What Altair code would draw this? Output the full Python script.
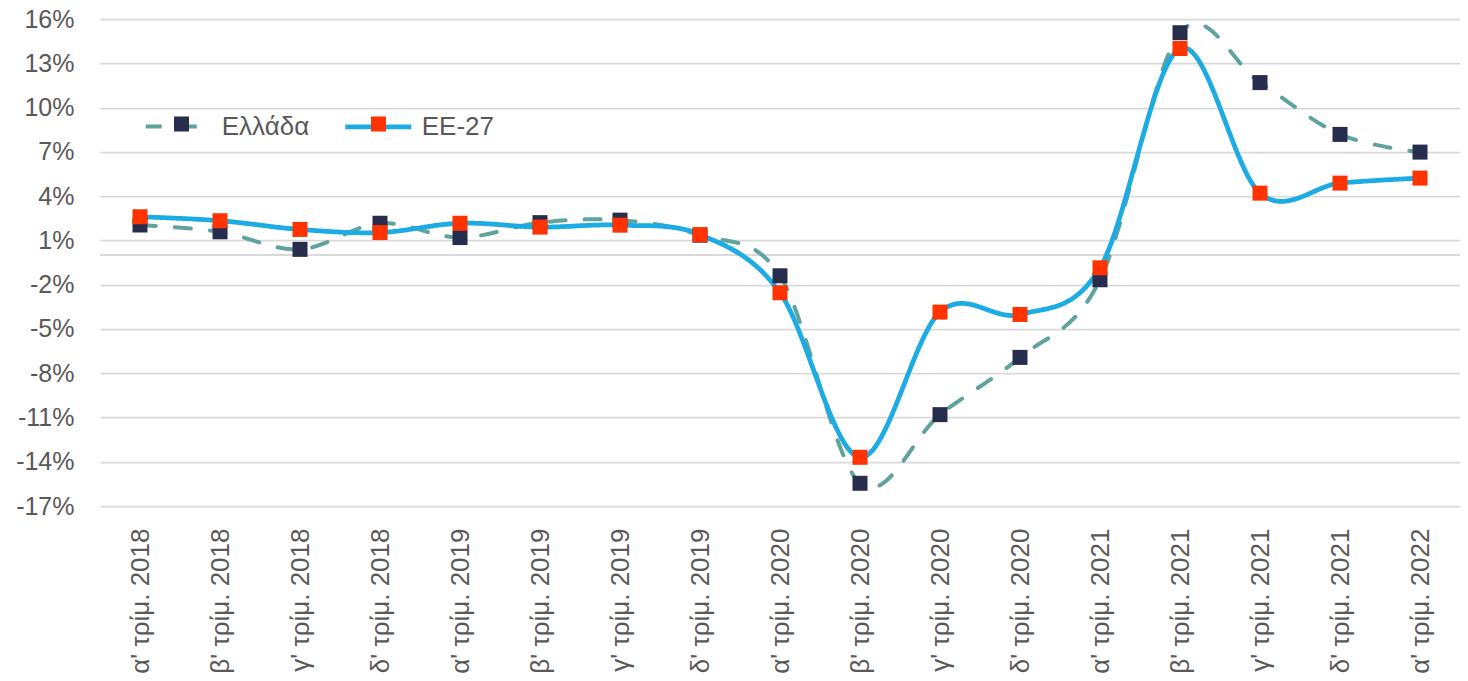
import altair as alt
import pandas as pd

quarters = [
    "α' τρίμ. 2018", "β' τρίμ. 2018", "γ' τρίμ. 2018", "δ' τρίμ. 2018",
    "α' τρίμ. 2019", "β' τρίμ. 2019", "γ' τρίμ. 2019", "δ' τρίμ. 2019",
    "α' τρίμ. 2020", "β' τρίμ. 2020", "γ' τρίμ. 2020", "δ' τρίμ. 2020",
    "α' τρίμ. 2021", "β' τρίμ. 2021", "γ' τρίμ. 2021", "δ' τρίμ. 2021",
    "α' τρίμ. 2022",
]
greece = [2.04, 1.58, 0.39, 2.16, 1.19, 2.2, 2.37, 1.35, -1.40, -15.46, -10.81,
          -6.93, -1.67, 15.07, 11.69, 8.18, 6.98]
eu27 = [2.6, 2.33, 1.74, 1.53, 2.16, 1.9, 2.03, 1.39, -2.55, -13.70, -3.86,
        -4.02, -0.86, 14.0, 4.2, 4.88, 5.22]
series_names = ["Ελλάδα", "ΕΕ-27"]
y_ticks = [-17, -14, -11, -8, -5, -2, 1, 4, 7, 10, 13, 16]

# marker series keys carry a suffix so that their legend stays separate
marker_names = [s + "_" for s in series_names]

rows = []
for name, mname, vals in zip(series_names, marker_names, [greece, eu27]):
    for q, v in zip(quarters, vals):
        rows.append({"quarter": q, "series": name, "series_pt": mname, "value": v})
df = pd.DataFrame(rows)

FONT = "Liberation Sans"
TXT = "#595959"
GRID = "#D9D9D9"
TEAL = "#5FA39E"
BLUE = "#1CABE2"
NAVY = "#262D4D"
RED = "#FF3300"

x_enc = alt.X(
    "quarter:N", sort=quarters, title=None,
    scale=alt.Scale(type="point", padding=0.5),
    axis=alt.Axis(labelAngle=-90, labelFontSize=26, labelFont=FONT, labelColor=TXT,
                  ticks=False, domain=False, grid=False, labelPadding=22),
)
y_enc = alt.Y(
    "value:Q", title=None,
    scale=alt.Scale(domain=[-17, 16], nice=False, zero=False),
    axis=alt.Axis(values=y_ticks, labelExpr="datum.value + '%'", labelFontSize=25,
                  labelFont=FONT, labelColor=TXT, ticks=False, domain=False,
                  grid=True, gridColor=GRID, gridWidth=1.75, labelPadding=26),
)

line_legend = alt.Legend(
    title=None, orient="none", legendX=43.75, legendY=72, direction="horizontal",
    symbolType="stroke", symbolSize=4356, symbolStrokeWidth=4.5,
    labelFontSize=26, labelFont=FONT, labelColor=TXT, labelOffset=8,
    columnPadding=26, padding=0,
)
point_legend = alt.Legend(
    title=None, orient="none", legendX=68.5, legendY=92, direction="horizontal",
    symbolType="square", symbolSize=225, symbolStrokeWidth=0,
    labelFontSize=26, labelFont=FONT, labelExpr="''",
    labelOffset=0, columnPadding=171, padding=0,
)

zero_rule = alt.Chart(df).mark_rule(color=GRID, strokeWidth=2).encode(y=alt.datum(0))

lines = alt.Chart(df).mark_line(interpolate="cardinal", tension=0, strokeCap="round").encode(
    x=x_enc, y=y_enc,
    color=alt.Color("series:N", scale=alt.Scale(domain=series_names, range=[TEAL, BLUE]),
                    legend=line_legend),
    strokeDash=alt.StrokeDash("series:N",
                              scale=alt.Scale(domain=series_names, range=[[16, 19], [1, 0]]),
                              legend=line_legend),
    strokeWidth=alt.StrokeWidth("series:N",
                                scale=alt.Scale(domain=series_names, range=[4, 4.75]),
                                legend=None),
)

points = alt.Chart(df).mark_point(shape="square", filled=True, opacity=1, size=225).encode(
    x=x_enc, y=y_enc,
    fill=alt.Fill("series_pt:N", scale=alt.Scale(domain=marker_names, range=[NAVY, RED]),
                  legend=point_legend),
)

chart = alt.layer(zero_rule, lines, points).properties(
    width=1360, height=487,
    autosize=alt.AutoSizeParams(type="none"),
    padding={"left": 92, "top": 11, "right": 0, "bottom": 170},
    background="white",
).configure_view(stroke=None)

chart.save("out.html", embed_options={"renderer": "svg", "actions": False})
